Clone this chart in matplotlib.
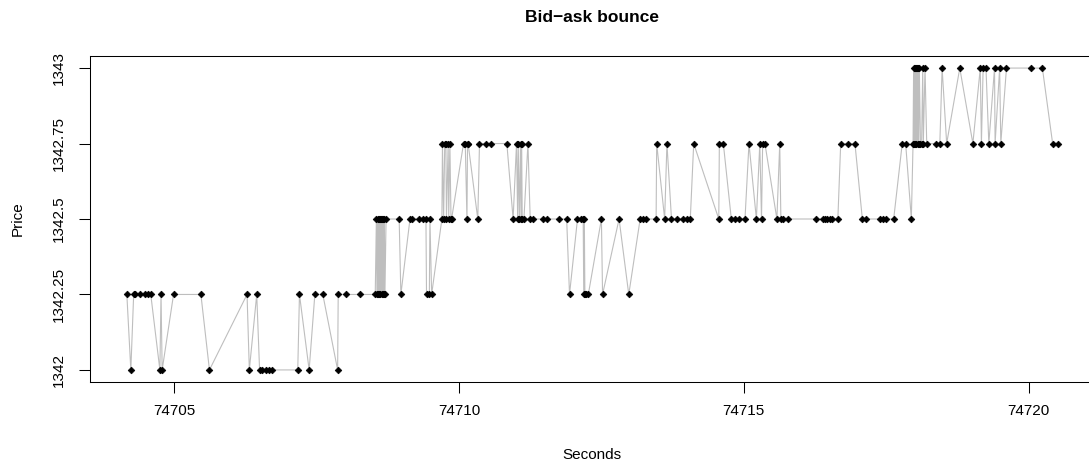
import matplotlib
matplotlib.use("Agg")
import matplotlib.pyplot as plt

# trade times (seconds after midnight) and traded prices
seconds = [
    74704.17, 74704.24, 74704.29, 74704.32, 74704.40, 74704.49, 74704.55, 74704.59,
    74704.75, 74704.77, 74704.79, 74704.99, 74705.47, 74705.62, 74706.28, 74706.32,
    74706.45, 74706.50, 74706.55, 74706.61, 74706.67, 74706.71, 74707.17, 74707.20,
    74707.37, 74707.47, 74707.61, 74707.87, 74707.88, 74708.01, 74708.26, 74708.53,
    74708.55, 74708.56, 74708.57, 74708.58, 74708.59, 74708.60, 74708.61, 74708.62,
    74708.63, 74708.64, 74708.65, 74708.66, 74708.67, 74708.68, 74708.69, 74708.70,
    74708.72, 74708.95, 74708.98, 74709.14, 74709.17, 74709.29, 74709.37, 74709.42,
    74709.43, 74709.48, 74709.49, 74709.52, 74709.70, 74709.71, 74709.73, 74709.75,
    74709.77, 74709.78, 74709.81, 74709.82, 74709.84, 74709.86, 74709.87, 74710.08,
    74710.11, 74710.14, 74710.15, 74710.16, 74710.33, 74710.36, 74710.47, 74710.57,
    74710.84, 74710.95, 74711.01, 74711.03, 74711.04, 74711.06, 74711.08, 74711.09,
    74711.10, 74711.11, 74711.14, 74711.21, 74711.25, 74711.30, 74711.48, 74711.54,
    74711.75, 74711.89, 74711.94, 74712.08, 74712.14, 74712.18, 74712.19, 74712.20,
    74712.21, 74712.23, 74712.27, 74712.50, 74712.52, 74712.81, 74712.98, 74713.18,
    74713.23, 74713.29, 74713.46, 74713.47, 74713.61, 74713.65, 74713.73, 74713.82,
    74713.94, 74714.01, 74714.06, 74714.12, 74714.56, 74714.57, 74714.64, 74714.78,
    74714.84, 74714.91, 74715.02, 74715.09, 74715.22, 74715.28, 74715.31, 74715.33,
    74715.37, 74715.58, 74715.63, 74715.65, 74715.68, 74715.78, 74716.26, 74716.39,
    74716.42, 74716.46, 74716.51, 74716.54, 74716.65, 74716.70, 74716.83, 74716.95,
    74717.08, 74717.15, 74717.39, 74717.44, 74717.50, 74717.63, 74717.78, 74717.84,
    74717.94, 74717.97, 74717.98, 74717.99, 74718.00, 74718.01, 74718.02, 74718.03,
    74718.04, 74718.05, 74718.06, 74718.07, 74718.08, 74718.10, 74718.12, 74718.14,
    74718.15, 74718.18, 74718.21, 74718.38, 74718.44, 74718.48, 74718.56, 74718.79,
    74719.02, 74719.15, 74719.17, 74719.20, 74719.25, 74719.30, 74719.40, 74719.41,
    74719.49, 74719.51, 74719.61, 74720.04, 74720.24, 74720.42, 74720.51,
]

price = [
    1342.25, 1342.00, 1342.25, 1342.25, 1342.25, 1342.25, 1342.25, 1342.25,
    1342.00, 1342.25, 1342.00, 1342.25, 1342.25, 1342.00, 1342.25, 1342.00,
    1342.25, 1342.00, 1342.00, 1342.00, 1342.00, 1342.00, 1342.00, 1342.25,
    1342.00, 1342.25, 1342.25, 1342.00, 1342.25, 1342.25, 1342.25, 1342.25,
    1342.50, 1342.25, 1342.50, 1342.25, 1342.50, 1342.25, 1342.50, 1342.25,
    1342.50, 1342.25, 1342.50, 1342.25, 1342.50, 1342.25, 1342.50, 1342.25,
    1342.50, 1342.50, 1342.25, 1342.50, 1342.50, 1342.50, 1342.50, 1342.50,
    1342.25, 1342.25, 1342.50, 1342.25, 1342.50, 1342.75, 1342.50, 1342.75,
    1342.75, 1342.50, 1342.75, 1342.50, 1342.75, 1342.50, 1342.50, 1342.75,
    1342.75, 1342.50, 1342.75, 1342.75, 1342.50, 1342.75, 1342.75, 1342.75,
    1342.75, 1342.50, 1342.75, 1342.50, 1342.75, 1342.50, 1342.75, 1342.50,
    1342.75, 1342.50, 1342.50, 1342.75, 1342.50, 1342.50, 1342.50, 1342.50,
    1342.50, 1342.50, 1342.25, 1342.50, 1342.50, 1342.50, 1342.25, 1342.50,
    1342.25, 1342.25, 1342.25, 1342.50, 1342.25, 1342.50, 1342.25, 1342.50,
    1342.50, 1342.50, 1342.50, 1342.75, 1342.50, 1342.75, 1342.50, 1342.50,
    1342.50, 1342.50, 1342.50, 1342.75, 1342.50, 1342.75, 1342.75, 1342.50,
    1342.50, 1342.50, 1342.50, 1342.75, 1342.50, 1342.75, 1342.50, 1342.75,
    1342.75, 1342.50, 1342.75, 1342.50, 1342.50, 1342.50, 1342.50, 1342.50,
    1342.50, 1342.50, 1342.50, 1342.50, 1342.50, 1342.75, 1342.75, 1342.75,
    1342.50, 1342.50, 1342.50, 1342.50, 1342.50, 1342.50, 1342.75, 1342.75,
    1342.50, 1342.75, 1343.00, 1342.75, 1343.00, 1342.75, 1343.00, 1342.75,
    1343.00, 1342.75, 1343.00, 1342.75, 1343.00, 1342.75, 1342.75, 1343.00,
    1342.75, 1343.00, 1342.75, 1342.75, 1342.75, 1343.00, 1342.75, 1343.00,
    1342.75, 1343.00, 1342.75, 1343.00, 1343.00, 1342.75, 1343.00, 1342.75,
    1343.00, 1342.75, 1343.00, 1343.00, 1343.00, 1342.75, 1342.75,
]

x_ticks = [74705, 74710, 74715, 74720]
y_ticks = [1342.0, 1342.25, 1342.5, 1342.75, 1343.0]
y_tick_labels = ["1342", "1342.25", "1342.5", "1342.75", "1343"]

plt.rcParams['font.family'] = ['Liberation Sans', 'DejaVu Sans']

W, H = 1089, 466
fig = plt.figure(figsize=(W / 100, H / 100), dpi=100)
# plot region in pixels: left 90, right 1095, top 56, bottom 382
ax = fig.add_axes([89.6 / W, (H - 382) / H, 1005.4 / W, 326 / H])

ax.plot(seconds, price, color='#BEBEBE', lw=0.8, zorder=1)
ax.plot(seconds, price, ls='none', marker='D', ms=3.4, mfc='black',
        mec='black', mew=0.5, zorder=2)

# R style axis padding of 4 percent
xspan = max(seconds) - min(seconds)
ax.set_xlim(min(seconds) - 0.04 * xspan, max(seconds) + 0.04 * xspan)
ax.set_ylim(1342 - 0.04, 1343 + 0.04)

ax.set_xticks(x_ticks)
ax.set_xticklabels([str(t) for t in x_ticks], fontsize=11)
ax.set_yticks(y_ticks)
ax.set_yticklabels(y_tick_labels, fontsize=11, rotation=90, va='center')
ax.tick_params(axis='both', direction='out', length=8, width=0.75,
               colors='black')
ax.tick_params(axis='x', pad=8)
ax.tick_params(axis='y', pad=9)

for sp in ax.spines.values():
    sp.set_linewidth(0.75)
    sp.set_color('black')

ax.text(0.5, 1 + (56 - 17) / 326, "Bid\u2212ask bounce", transform=ax.transAxes,
        ha='center', va='center', fontsize=12.5, fontweight='bold')
fig.text(592 / W, 1 - 455 / H, "Seconds", ha='center', va='center', fontsize=11)
fig.text(18 / W, 1 - 219 / H, "Price", ha='center', va='center', rotation=90,
         fontsize=11)

fig.savefig("out.png", dpi=100)
